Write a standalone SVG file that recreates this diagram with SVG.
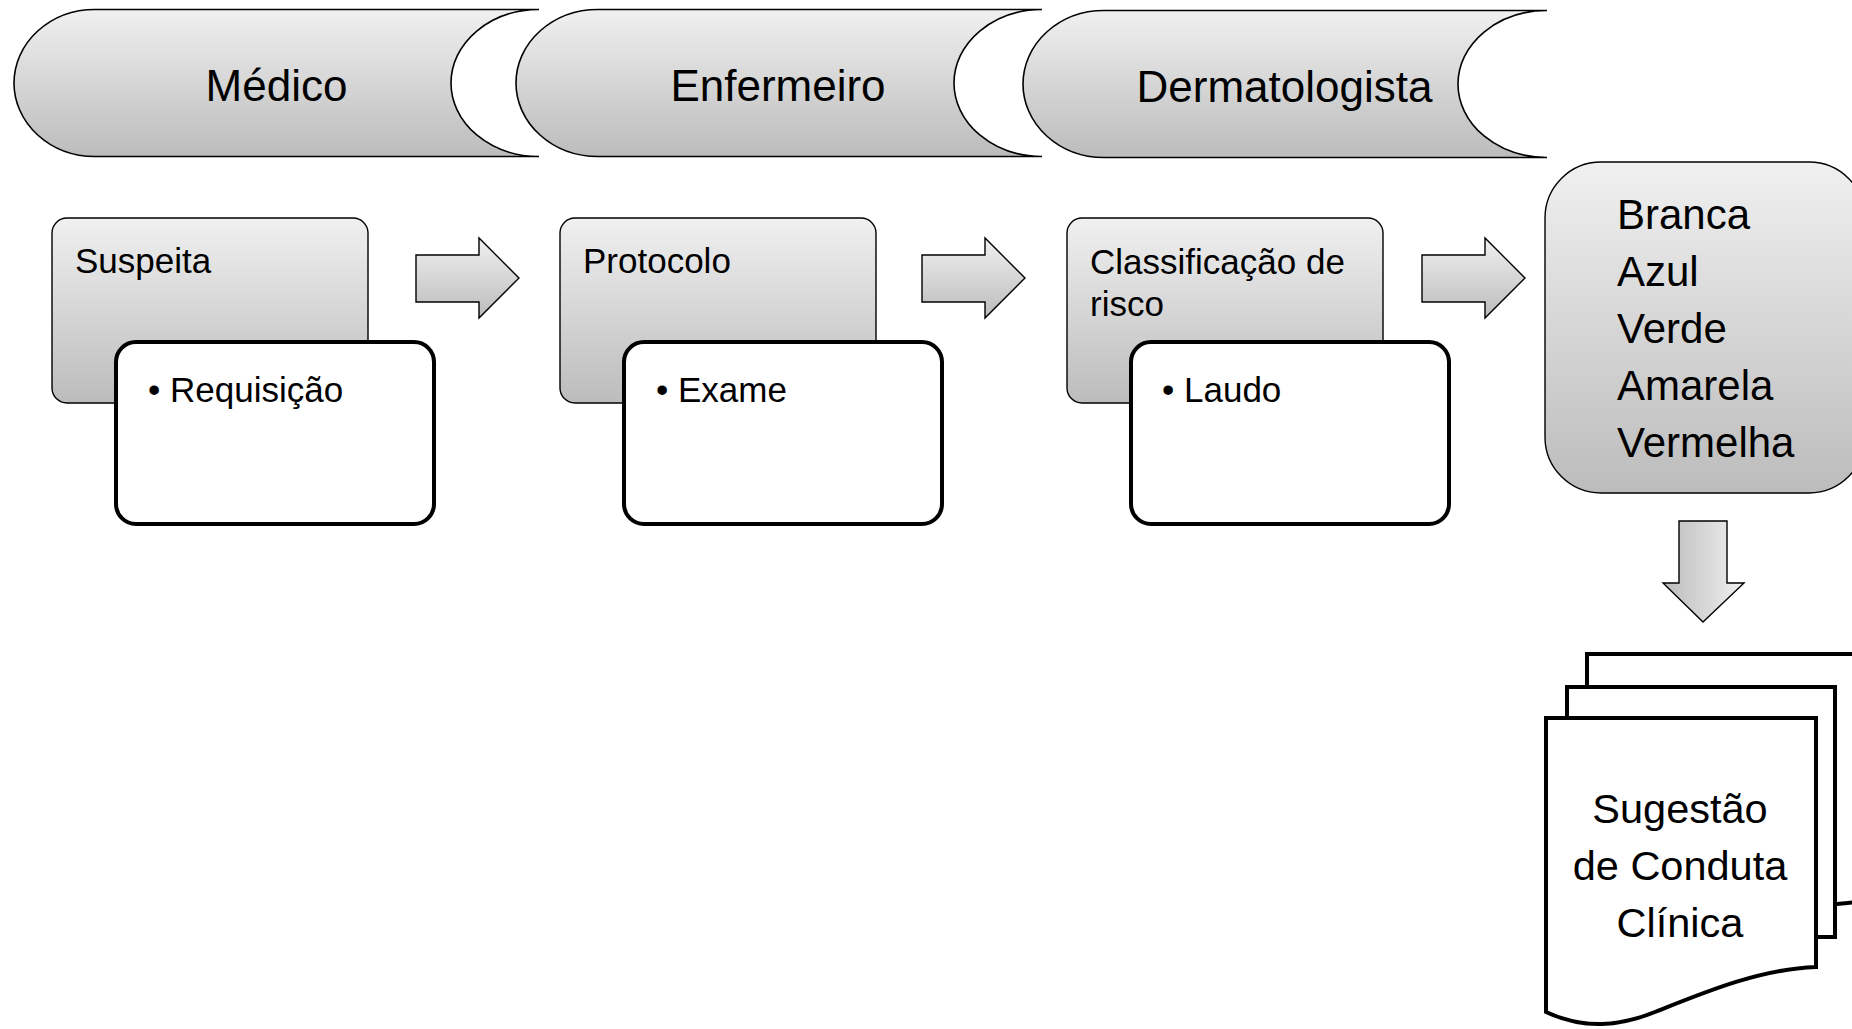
<svg xmlns="http://www.w3.org/2000/svg" width="1852" height="1029" viewBox="0 0 1852 1029">
<defs>
<linearGradient id="gv" x1="0" y1="0" x2="0" y2="1">
<stop offset="0" stop-color="#f0f0f0"/>
<stop offset="1" stop-color="#bcbcbc"/>
</linearGradient>
<linearGradient id="gh" x1="1" y1="0" x2="0" y2="0">
<stop offset="0" stop-color="#f0f0f0"/>
<stop offset="1" stop-color="#bcbcbc"/>
</linearGradient>
<style>
.chev{fill:url(#gv);stroke:#000;stroke-width:1.6}
.grey{fill:url(#gv);stroke:#000;stroke-width:1.4}
.white{fill:#fff;stroke:#000;stroke-width:4}
.doc{fill:#fff;stroke:#000;stroke-width:4;stroke-linejoin:miter}
.arr{fill:url(#gv);stroke:#000;stroke-width:1.4}
.arrd{fill:url(#gh);stroke:#000;stroke-width:1.4}
text{font-family:"Liberation Sans",Arial,sans-serif;fill:#000}
.h{font-size:44px;text-anchor:middle}
.t{font-size:35px}
.b{font-size:42px}
.c{font-size:41.5px;text-anchor:middle}
</style>
</defs>

<g id="chevron-medico">
<path class="chev" d="M95,9.5 H539 A88,73.5 0 0 0 539,156.5 H95 A81,73.5 0 0 1 95,9.5 Z"/>
<text class="h" x="276.5" y="101">Médico</text>
</g>
<g id="chevron-enfermeiro">
<path class="chev" d="M598,9.5 H1042 A88,73.5 0 0 0 1042,156.5 H598 A82,73.5 0 0 1 598,9.5 Z"/>
<text class="h" x="778" y="101">Enfermeiro</text>
</g>
<g id="chevron-dermatologista">
<path class="chev" d="M1104,10.5 H1547 A89,73.5 0 0 0 1547,157.5 H1104 A81,73.5 0 0 1 1104,10.5 Z"/>
<text class="h" x="1284.5" y="102">Dermatologista</text>
</g>

<g id="box-suspeita">
<rect class="grey" x="52" y="218" width="316" height="185" rx="15"/>
<text class="t" x="75" y="273">Suspeita</text>
</g>
<g id="box-requisicao">
<rect class="white" x="116" y="342" width="318" height="182" rx="20"/>
<text class="t" y="402"><tspan x="148">•</tspan><tspan x="170">Requisição</tspan></text>
</g>

<g id="box-protocolo">
<rect class="grey" x="560" y="218" width="316" height="185" rx="15"/>
<text class="t" x="583" y="273">Protocolo</text>
</g>
<g id="box-exame">
<rect class="white" x="624" y="342" width="318" height="182" rx="20"/>
<text class="t" y="402"><tspan x="656">•</tspan><tspan x="678">Exame</tspan></text>
</g>

<g id="box-classificacao">
<rect class="grey" x="1067" y="218" width="316" height="185" rx="15"/>
<text class="t" x="1090" y="274">Classificação de</text>
<text class="t" x="1090" y="316">risco</text>
</g>
<g id="box-laudo">
<rect class="white" x="1131" y="342" width="318" height="182" rx="20"/>
<text class="t" y="402"><tspan x="1162">•</tspan><tspan x="1184">Laudo</tspan></text>
</g>

<g id="box-cores">
<rect class="grey" x="1545" y="162" width="320" height="331" rx="56"/>
<text class="b" x="1617" y="229">Branca</text>
<text class="b" x="1617" y="286">Azul</text>
<text class="b" x="1617" y="343">Verde</text>
<text class="b" x="1617" y="400">Amarela</text>
<text class="b" x="1617" y="457">Vermelha</text>
</g>

<g id="doc-sugestao">
<path class="doc" d="M1587,654 H1875 V900 C1860,902 1845,903 1830,905 H1800 V700 H1587 Z"/>
<path class="doc" d="M1567,687 H1835 V937 H1790 V900 H1567 Z"/>
<path class="doc" d="M1546,718 H1816 V967 C1760,969 1705,992 1655,1012 C1620,1026 1585,1030 1546,1012 Z"/>
<text class="c" x="1680" y="823">Sugestão</text>
<text class="c" x="1680" y="880">de Conduta</text>
<text class="c" x="1680" y="937">Clínica</text>
</g>

<g id="connectors">
<path class="arr" d="M416,255 H479 V238 L519,278 L479,318 V302 H416 Z"/>
<path class="arr" d="M922,255 H985 V238 L1025,278 L985,318 V302 H922 Z"/>
<path class="arr" d="M1422,255 H1485 V238 L1525,278 L1485,318 V302 H1422 Z"/>
<path class="arrd" d="M1679,521 H1727 V583 H1744 L1703,622 L1663,583 H1679 Z"/>
</g>
</svg>
